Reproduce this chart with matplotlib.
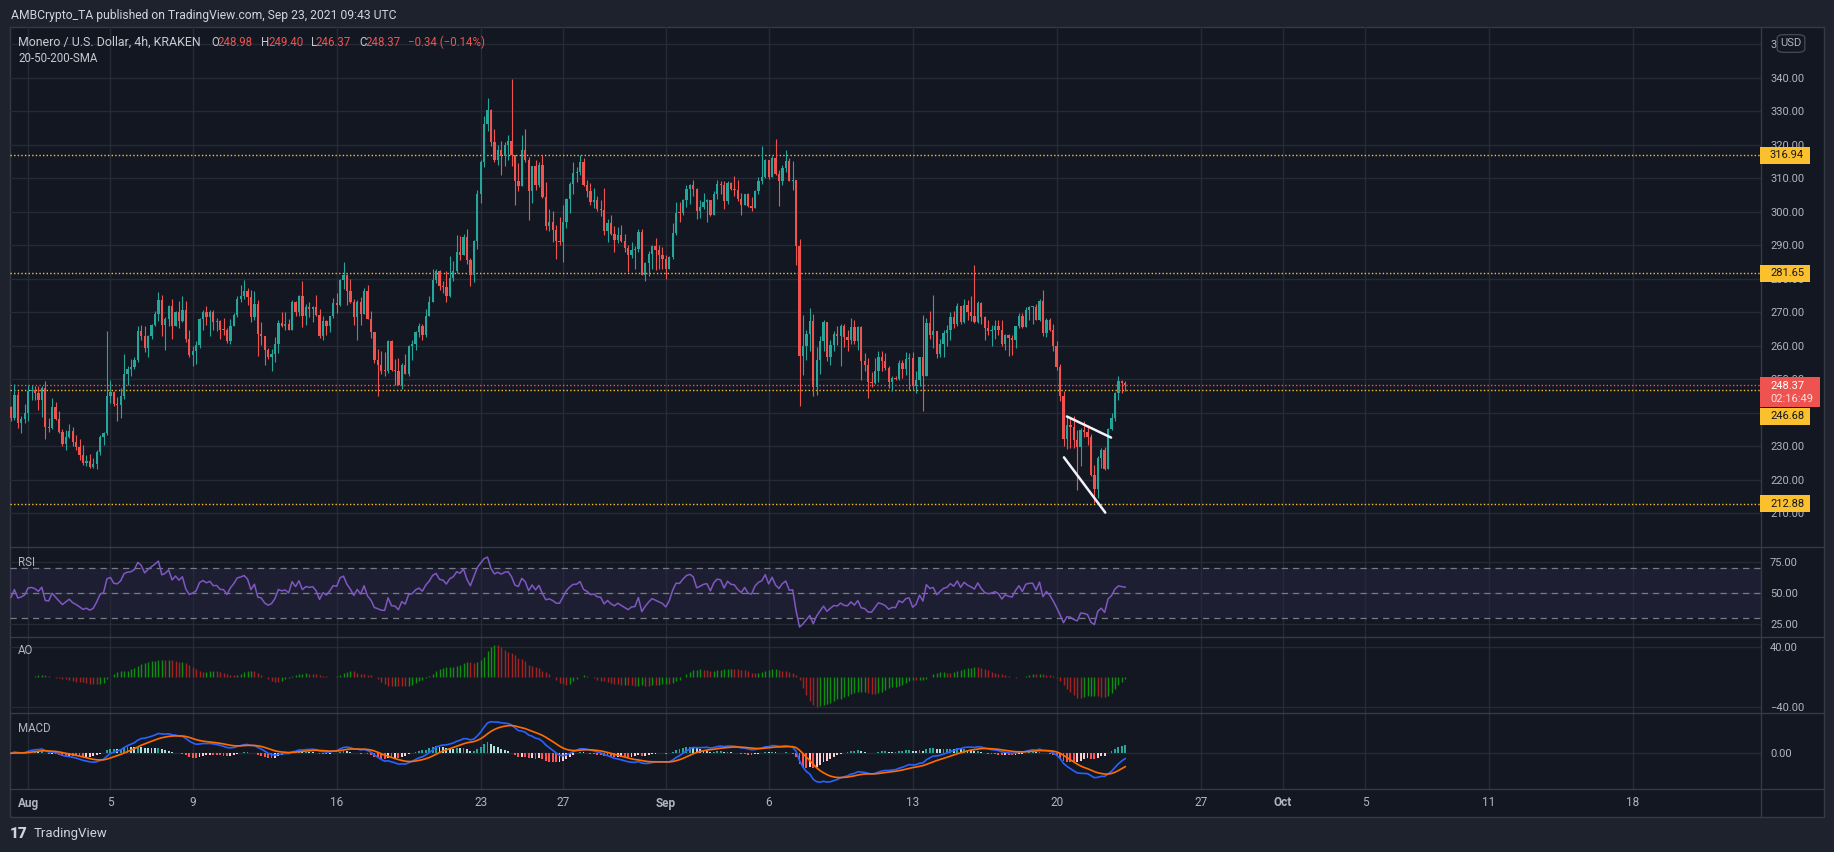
import numpy as np
import pandas as pd
import matplotlib
matplotlib.use("Agg")
import matplotlib.pyplot as plt
import matplotlib.dates as mdates
from matplotlib.patches import Rectangle, FancyBboxPatch
from matplotlib.lines import Line2D

plt.rcParams['font.family'] = ['Roboto', 'DejaVu Sans']

# ---- XMR/USD 4h candles, Jul 31 04:00 -> Sep 23 08:00
first_open = 241.7
close = [
    238.4, 245.4, 237.1, 238.1, 239.9, 246.4, 246.9, 245.9, 243.9, 247.4,
    235.9, 235.4, 241.7, 238.1, 234.4, 230.7, 232.7, 234.6, 231.4, 229.7,
    227.5, 225.0, 225.7, 223.8, 224.8, 228.2, 232.9, 233.9, 244.9, 246.3,
    242.7, 242.4, 244.9, 251.7, 253.2, 253.6, 255.8, 264.5, 263.0, 259.2,
    263.0, 266.3, 269.6, 273.8, 266.3, 268.0, 272.0, 265.8, 270.0, 267.3,
    270.8, 262.0, 257.3, 258.5, 260.3, 268.0, 270.2, 268.6, 270.0, 267.1,
    267.3, 264.8, 264.6, 261.5, 266.0, 269.3, 274.1, 275.0, 276.3, 274.5,
    268.5, 272.6, 263.5, 262.8, 258.6, 256.6, 257.6, 260.6, 266.9, 266.0,
    266.6, 264.8, 273.1,
    270.0, 275.0, 269.0, 271.6, 271.0, 271.6, 269.1, 262.8, 267.5, 265.8,
    268.8, 272.8, 272.3, 279.7, 281.2, 276.3, 273.0, 268.5, 273.1, 269.6,
    276.5, 268.1, 264.0, 255.8, 254.4, 252.6, 252.4, 261.5, 252.9, 252.6,
    248.2, 254.4, 251.7, 260.0, 260.6, 264.1, 265.8, 263.3, 269.0, 273.1,
    279.7, 282.2, 278.0, 277.5, 274.8, 280.2, 282.2, 288.1, 287.2, 292.5,
    285.7, 281.0, 291.2, 305.4, 315.0, 326.1, 330.5, 320.8, 315.4, 318.6,
    316.8, 320.1, 321.0, 316.9, 309.1, 307.8, 318.6, 315.4, 306.1, 313.6,
    308.1, 314.1, 304.4, 295.9, 296.9, 294.7, 291.2, 290.9, 297.0, 303.9,
    308.4,
    311.6, 311.8, 314.9, 307.9, 306.1, 302.9, 303.4, 300.9, 300.5, 294.2,
    296.7, 293.5, 291.5, 293.2, 291.2, 289.2, 287.2, 288.7, 288.9, 294.0,
    281.2, 284.7, 287.5, 289.9, 288.5, 287.2, 285.9, 283.0, 286.5, 293.7,
    299.7, 299.5, 303.4, 306.8, 308.1, 306.8, 300.2, 301.4, 302.9, 303.4,
    299.2, 305.2, 308.4, 307.9, 303.2, 308.6, 306.8, 306.5, 303.7, 301.9,
    305.2, 301.7, 301.2, 306.3, 309.1, 310.3, 315.4, 310.4, 316.1, 311.4,
    309.1, 313.1, 315.3, 309.3, 309.6, 289.9, 257.0, 259.8, 263.6, 267.5,
    247.6, 255.8, 261.5, 267.0, 256.8, 260.3, 263.6, 262.8, 266.0, 262.5,
    261.8, 265.6,
    261.3, 265.6, 255.5, 254.4, 249.1, 248.8, 252.6, 256.6, 255.4, 253.4,
    249.1, 250.4, 250.1, 255.0, 253.2, 256.0, 256.5, 247.9, 249.9, 256.6,
    251.1, 266.8, 263.3, 264.3, 257.5, 260.6, 263.8, 264.8, 268.6, 266.6,
    272.0, 267.0, 272.3, 270.0, 268.8, 267.0, 272.8, 268.6, 265.3, 264.3,
    264.8, 265.8, 264.6, 260.6, 263.3, 262.3, 261.8, 265.8, 269.0, 265.6,
    270.8, 271.5, 271.6, 267.8, 273.5, 263.8, 267.6, 264.8, 260.0, 253.6,
    244.9, 232.1, 236.4, 235.7, 231.9, 229.7, 234.9, 234.4, 232.9, 221.5,
    217.2, 226.5, 229.0, 223.2, 235.1, 238.4, 245.9, 249.6, 248.98, 248.37,
]
high = [
    242.1, 248.7, 246.6, 239.0, 242.7, 248.3, 248.3, 248.1, 248.1, 247.9,
    249.6, 238.4, 244.4, 243.3, 240.4, 235.2, 234.9, 236.7, 235.7, 233.4,
    232.1, 230.4, 227.5, 227.8, 226.5, 229.0, 233.4, 234.4, 264.3, 249.9,
    246.6, 244.7, 247.4, 257.6, 254.1, 256.1, 256.6, 265.8, 266.3, 266.0,
    263.3, 266.6, 270.3, 276.1, 275.3, 268.5, 272.3, 274.0, 270.3, 273.5,
    275.0, 273.5, 264.8, 260.0, 261.3, 268.3, 270.8, 272.0, 270.8, 270.8,
    268.3, 267.8, 268.3, 265.3, 268.0, 269.8, 275.0, 278.3, 279.5, 277.3,
    276.6, 276.5, 273.6, 267.2, 263.0, 259.3, 259.0, 262.5, 267.8, 270.0,
    270.1, 268.1, 273.8,
    273.5, 275.2, 279.2, 272.6, 273.0, 272.0, 275.3, 271.1, 268.8, 267.8,
    269.0, 274.4, 275.9, 280.0, 284.9, 281.5, 280.0, 274.0, 273.8, 274.6,
    277.3, 278.3, 270.3, 264.0, 259.0, 258.3, 258.0, 261.6, 261.8, 256.0,
    256.3, 254.9, 257.6, 260.2, 261.8, 264.3, 266.8, 266.6, 271.0, 275.0,
    282.9, 282.9, 282.7, 279.4, 282.2, 286.9, 285.2, 293.2, 292.9, 293.5,
    295.0, 286.2, 291.5, 306.6, 315.6, 328.6, 334.1, 330.8, 324.6, 320.1,
    321.0, 320.8, 322.8, 339.8, 316.6, 314.6, 322.8, 324.8, 316.3, 313.8,
    315.4, 314.8, 317.1, 309.0, 300.7, 300.2, 296.2, 298.5, 301.9, 304.2,
    308.8,
    314.8, 313.3, 317.1, 316.1, 309.6, 308.6, 307.1, 304.8, 303.4, 307.1,
    297.9, 299.2, 295.9, 295.5, 296.2, 293.5, 290.2, 291.0, 289.9, 294.9,
    294.9, 284.9, 288.2, 290.2, 292.2, 290.2, 289.5, 287.2, 286.9, 296.7,
    303.0, 302.9, 303.7, 308.1, 308.3, 309.6, 307.1, 303.4, 305.6, 303.9,
    303.2, 306.1, 309.6, 309.3, 309.1, 309.1, 308.8, 310.8, 309.6, 305.6,
    305.4, 305.6, 304.4, 306.6, 310.4, 319.6, 315.8, 315.4, 316.8, 321.6,
    312.4, 314.1, 318.6, 316.1, 315.1, 308.4, 291.9, 269.3, 264.8, 271.4,
    269.6, 259.6, 262.8, 267.8, 267.0, 261.6, 264.5, 265.8, 266.6, 266.6,
    264.8, 268.3,
    267.6, 266.0, 265.8, 257.8, 256.3, 252.1, 256.3, 258.3, 258.3, 257.8,
    254.1, 251.1, 250.9, 255.8, 255.8, 258.1, 257.8, 258.0, 252.6, 256.8,
    269.3, 268.3, 270.3, 275.3, 264.5, 262.0, 264.8, 266.3, 270.0, 270.3,
    272.8, 271.8, 274.0, 273.8, 275.0, 284.2, 273.5, 273.0, 269.0, 267.8,
    266.3, 267.8, 267.8, 267.6, 263.5, 263.6, 263.3, 266.0, 269.8, 269.8,
    271.6, 271.8, 271.8, 272.6, 274.0, 276.8, 268.3, 268.3, 266.5, 261.3,
    254.5, 246.6, 238.7, 238.4, 238.9, 234.9, 235.4, 237.6, 236.4, 233.6,
    224.5, 227.0, 229.5, 229.7, 235.4, 239.9, 246.1, 251.1, 249.9, 249.40,
]
low = [
    237.4, 237.7, 235.6, 234.1, 236.9, 237.4, 243.9, 243.9, 240.7, 238.7,
    232.1, 234.4, 235.1, 237.9, 234.1, 230.1, 228.8, 232.4, 230.1, 228.8,
    226.0, 224.5, 224.0, 223.5, 223.5, 223.2, 227.5, 230.4, 233.4, 242.9,
    241.9, 237.4, 238.4, 244.2, 248.4, 251.1, 253.1, 255.3, 261.8, 258.0,
    256.8, 262.0, 265.8, 267.3, 262.8, 258.8, 265.8, 262.0, 265.8, 265.3,
    267.0, 261.0, 256.6, 254.1, 254.5, 259.2, 264.6, 266.3, 262.8, 264.8,
    264.3, 262.0, 263.3, 260.8, 260.6, 265.8, 268.5, 273.0, 274.0, 272.1,
    267.1, 267.6, 257.1, 260.3, 254.4, 256.0, 252.4, 255.3, 257.8, 265.6,
    264.8, 264.6, 264.6,
    269.0, 268.8, 265.6, 266.3, 268.6, 267.0, 268.8, 262.3, 261.6, 263.3,
    264.0, 268.3, 269.8, 272.0, 276.9, 272.3, 272.8, 266.3, 261.6, 266.3,
    270.0, 268.0, 262.3, 254.9, 244.9, 251.7, 250.9, 251.9, 252.4, 248.4,
    248.2, 247.2, 251.7, 251.1, 255.8, 258.8, 262.5, 261.8, 262.5, 268.8,
    273.1, 278.8, 276.8, 275.9, 273.0, 274.6, 279.3, 281.7, 285.7, 287.2,
    284.5, 277.9, 278.9, 288.9, 302.5, 313.4, 324.1, 319.8, 314.8, 314.1,
    311.1, 313.8, 315.4, 313.6, 301.9, 306.1, 307.8, 314.8, 297.7, 302.5,
    306.4, 307.4, 304.2, 294.5, 294.2, 290.9, 286.0, 290.2, 284.9, 295.1,
    299.5,
    305.4, 309.0, 311.1, 307.8, 304.4, 301.9, 301.2, 300.2, 298.7, 293.2,
    290.9, 293.2, 287.9, 290.7, 290.9, 287.9, 281.9, 286.2, 283.0, 287.9,
    281.0, 279.3, 280.9, 282.9, 282.5, 282.9, 282.9, 279.9, 283.5, 285.9,
    293.2, 296.9, 299.0, 301.5, 302.2, 304.7, 298.0, 298.2, 300.9, 296.9,
    298.7, 299.7, 303.9, 305.4, 300.9, 302.2, 306.4, 304.7, 303.2, 299.0,
    301.9, 301.5, 300.2, 301.9, 305.4, 308.4, 310.1, 309.8, 310.9, 310.9,
    301.7, 308.1, 311.8, 309.1, 306.4, 284.2, 241.9, 251.4, 255.8, 258.3,
    244.9, 245.2, 251.7, 258.5, 255.6, 254.4, 258.3, 260.3, 253.9, 259.5,
    258.3, 260.6,
    260.6, 258.6, 249.9, 252.6, 244.4, 247.7, 248.5, 249.2, 252.6, 252.9,
    247.4, 246.4, 249.7, 249.7, 250.4, 251.4, 246.9, 246.9, 245.9, 247.9,
    240.4, 250.9, 262.0, 259.3, 256.3, 256.6, 256.8, 259.8, 261.8, 265.3,
    266.0, 266.6, 266.8, 267.8, 267.3, 266.8, 266.8, 266.6, 261.6, 263.3,
    260.0, 262.0, 263.3, 260.0, 258.8, 257.0, 257.3, 259.3, 265.3, 265.3,
    265.6, 267.8, 266.6, 267.6, 267.3, 263.0, 262.5, 264.3, 258.3, 252.9,
    243.4, 230.1, 229.2, 229.5, 229.5, 217.0, 224.2, 232.9, 230.4, 221.2,
    213.0, 214.5, 223.5, 223.0, 223.5, 235.0, 237.4, 243.9, 245.9, 246.37,
]

levels = [316.94, 281.65, 246.68, 212.88]
last_price = 248.37
countdown = "02:16:49"

# drawn wedge lines (time, price)
upper_t = ["2021-09-20 12:00", "2021-09-22 15:30"]
upper_p = [238.9, 232.6]
lower_t = ["2021-09-20 08:30", "2021-09-22 08:45"]
lower_p = [226.7, 210.2]

tick_dates = ["2021-08-01", "2021-08-05", "2021-08-09", "2021-08-16", "2021-08-23",
              "2021-08-27", "2021-09-01", "2021-09-06", "2021-09-13", "2021-09-20",
              "2021-09-27", "2021-10-01", "2021-10-05", "2021-10-11", "2021-10-18"]
tick_labels = ["Aug", "5", "9", "16", "23", "27", "Sep", "6", "13", "20", "27",
               "Oct", "5", "11", "18"]

# ---- colours
BG_OUT = "#1e222d"
BG = "#131722"
GRID = "#262a35"
SEP = "#363a45"
TXT = "#b2b5be"
UP = "#26a69a"
DN = "#ef5350"
YEL = "#fbc02d"

c = np.array(close)
h = np.array(high)
l = np.array(low)
o = np.concatenate([[first_open], c[:-1]])
h = np.maximum(h, np.maximum(o, c))
l = np.minimum(l, np.minimum(o, c))
n = len(c)
times = pd.date_range("2021-07-31 04:00", periods=n, freq="4h")
tn = mdates.date2num(times.to_pydatetime())

# ---- indicators from the candles
d = np.diff(c, prepend=c[0])
up = np.clip(d, 0, None)
dn = np.clip(-d, 0, None)
ag = up[1:15].mean()
al = dn[1:15].mean()
rsi = np.empty(n)
for i in range(n):
    if i > 0:
        ag = (ag * 13 + up[i]) / 14
        al = (al * 13 + dn[i]) / 14
    rsi[i] = 100 - 100 / (1 + ag / al)

med = pd.Series((h + l) / 2)
ao = (med.rolling(5, min_periods=1).mean() - med.rolling(34, min_periods=1).mean()).values
ao_col = ["#0e8f0e" if i == 0 or ao[i] >= ao[i - 1] else "#a32222" for i in range(n)]

cs = pd.Series(c)
macd = (cs.ewm(span=12, adjust=False).mean() - cs.ewm(span=26, adjust=False).mean()).values
sig = pd.Series(macd).ewm(span=9, adjust=False).mean().values
hist = macd - sig
hist_col = []
for i in range(n):
    prev = hist[i - 1] if i > 0 else 0
    if hist[i] >= 0:
        hist_col.append("#26a69a" if hist[i] >= prev else "#b2dfdb")
    else:
        hist_col.append("#ff5252" if hist[i] < prev else "#ffcdd2")

# ---- layout (pixels)
W, H = 1834, 852
fig = plt.figure(figsize=(W / 100, H / 100), dpi=100, facecolor=BG_OUT)


def rect(x0, y0, x1, y1):
    return [x0 / W, 1 - y1 / H, (x1 - x0) / W, (y1 - y0) / H]


fig.add_artist(Rectangle((10 / W, 1 - 817 / H), 1814 / W, (817 - 26.5) / H,
                         transform=fig.transFigure, facecolor=BG, edgecolor=SEP,
                         lw=1, zorder=-1))

ax = fig.add_axes(rect(10, 26.5, 1761, 547))
ax_rsi = fig.add_axes(rect(10, 547, 1761, 637), sharex=ax)
ax_ao = fig.add_axes(rect(10, 637, 1761, 713), sharex=ax)
ax_macd = fig.add_axes(rect(10, 713, 1761, 789), sharex=ax)
ax_x = fig.add_axes(rect(10, 789, 1761, 817), sharex=ax)

aug1 = mdates.date2num(pd.Timestamp("2021-08-01").to_pydatetime())
ax.set_xlim(aug1 - 0.88, aug1 + 84.24)
tdn = mdates.date2num(pd.to_datetime(tick_dates).to_pydatetime())

for a in (ax, ax_rsi, ax_ao, ax_macd, ax_x):
    a.set_facecolor("none")
    for s in a.spines.values():
        s.set_visible(False)
    a.yaxis.tick_right()
    a.tick_params(length=0, labelbottom=False, labelleft=False, labelright=True,
                  labelsize=8, labelcolor=TXT, pad=6.5)
    a.set_xticks(tdn)
    a.grid(True, axis="x", color=GRID, lw=1.0, zorder=0)
ax_x.grid(False)
ax_x.set_yticks([])

# ---- main pane
ax.set_ylim(199.93, 355.33)
pt = np.arange(210, 351, 10)
ax.set_yticks(pt)
ax.set_yticklabels([f"{v:.2f}" for v in pt])
ax.grid(True, axis="y", color=GRID, lw=1.0, zorder=0)

for lv in levels:
    ax.axhline(lv, color=YEL, lw=1.0, ls=(0, (1, 1.6)), zorder=2)
ax.axhline(last_price, color=DN, lw=1.0, ls=(0, (1, 1.6)), zorder=2)

col = np.where(c >= o, UP, DN)
ax.vlines(tn, l, h, colors=col, lw=0.8, zorder=3)
body = np.maximum(np.abs(c - o), 0.3)
ax.bar(tn, body, bottom=np.minimum(o, c), width=0.112, color=col, lw=0, zorder=3)

for tt, pp in ((upper_t, upper_p), (lower_t, lower_p)):
    xx = mdates.date2num(pd.to_datetime(tt).to_pydatetime())
    ax.plot(xx, pp, color="#f0f3fa", lw=1.8, solid_capstyle="round", zorder=4)

# ---- RSI pane
ax_rsi.set_ylim(14.86, 86.7)
ax_rsi.set_yticks([25, 50, 75])
ax_rsi.set_yticklabels(["25.00", "50.00", "75.00"])
ax_rsi.grid(True, axis="y", color=GRID, lw=1.0)
ax_rsi.axhspan(30, 70, color="#7e57c2", alpha=0.11, lw=0, zorder=1)
for lv in (30, 50, 70):
    ax_rsi.axhline(lv, color="#787b86", lw=0.9, ls=(0, (5, 4)), zorder=2)
ax_rsi.plot(tn, rsi, color="#7e57c2", lw=1.1, zorder=3)

# ---- AO pane
ax_ao.set_ylim(-48.4, 52.9)
ax_ao.set_yticks([-40, 40])
ax_ao.set_yticklabels(["\u221240.00", "40.00"])
ax_ao.grid(True, axis="y", color=GRID, lw=1.0)
ax_ao.vlines(tn, 0, ao, colors=ao_col, lw=1.0, zorder=3)

# ---- MACD pane
ppu = 31.6 / macd.max()
ax_macd.set_ylim(-35.7 / ppu, 40.3 / ppu)
ax_macd.set_yticks([0])
ax_macd.set_yticklabels(["0.00"])
ax_macd.grid(True, axis="y", color=GRID, lw=1.0)
ax_macd.bar(tn, hist, width=0.09, color=hist_col, lw=0, zorder=2)
ax_macd.plot(tn, macd, color="#2962ff", lw=1.2, zorder=3)
ax_macd.plot(tn, sig, color="#ff6d00", lw=1.2, zorder=3)

# ---- date axis
for x, lab in zip(tdn, tick_labels):
    ax_x.text(x, 0.5, lab, transform=ax_x.get_xaxis_transform(), ha="center", va="center",
              fontsize=8.5, color=TXT, fontweight="bold" if lab.isalpha() else "normal")

# ---- separators
for y in (547, 637, 713, 789):
    fig.add_artist(Line2D([10 / W, 1824 / W], [1 - y / H] * 2, color=SEP, lw=1, zorder=3))
fig.add_artist(Line2D([1761 / W] * 2, [1 - 26.5 / H, 1 - 817 / H], color=SEP, lw=1, zorder=3))


# ---- price tags on the scale
def ypx(price):
    return H - ax.transData.transform((aug1, price))[1]


def tag(yc, text, bg, fg, hgt=17, wid=50):
    fig.add_artist(Rectangle((1760 / W, 1 - (yc + hgt / 2) / H), wid / W, hgt / H,
                             transform=fig.transFigure, facecolor=bg, lw=0, zorder=5))
    fig.text(1770 / W, 1 - yc / H, text, color=fg, fontsize=8, va="center", ha="left", zorder=6)


for lv in (316.94, 281.65, 212.88):
    tag(ypx(lv), f"{lv:.2f}", YEL, "#131722")
yl = ypx(last_price)
fig.add_artist(Rectangle((1760 / W, 1 - (yl + 22) / H), 60 / W, 30 / H,
                         transform=fig.transFigure, facecolor=DN, lw=0, zorder=5))
fig.text(1770 / W, 1 - (yl + 0.8) / H, f"{last_price:.2f}", color="white", fontsize=8,
         va="center", zorder=6)
fig.text(1770 / W, 1 - (yl + 14.4) / H, countdown, color="#fde0df", fontsize=8,
         va="center", zorder=6)
tag(yl + 31.6, "246.68", YEL, "#131722")

fig.add_artist(FancyBboxPatch((1779 / W, 1 - 51.5 / H), 24 / W, 16 / H,
                              boxstyle="round,pad=0.001,rounding_size=0.004",
                              transform=fig.transFigure, facecolor=BG,
                              edgecolor="#434651", lw=1, zorder=5))
fig.text(1791 / W, 1 - 43 / H, "USD", color=TXT, fontsize=8, ha="center", va="center", zorder=6)

# ---- texts
fig.text(10.7 / W, 1 - 15 / H, "AMBCrypto_TA published on TradingView.com, Sep 23, 2021 09:43 UTC",
         color="#d1d4dc", fontsize=8.75, va="center")
LBL = "#c8cad0"
fig.text(18 / W, 1 - 42 / H, "Monero / U.S. Dollar, 4h, KRAKEN", color=LBL, fontsize=8.9,
         va="center", ha="left")
head = [(211, "O", LBL), (217.6, "248.98", DN),
        (261, "H", LBL), (268, "249.40", DN), (311, "L", LBL), (315, "246.37", DN),
        (359, "C", LBL), (365, "248.37", DN), (408, "\u22120.34 (\u22120.14%)", DN)]
for x, s, cc in head:
    fig.text(x / W, 1 - 42 / H, s, color=cc, fontsize=8.3, va="center", ha="left")
fig.text(18 / W, 1 - 59 / H, "20-50-200-SMA", color=LBL, fontsize=8.3, va="center")
fig.text(18 / W, 1 - 563 / H, "RSI", color=TXT, fontsize=8.3, va="center")
fig.text(18 / W, 1 - 651 / H, "AO", color=TXT, fontsize=8.3, va="center")
fig.text(18 / W, 1 - 729 / H, "MACD", color=TXT, fontsize=8.3, va="center")

fig.text(10 / W, 1 - 834 / H, "17", color="#d1d4dc", fontsize=11, fontweight="heavy", va="center")
fig.text(33.5 / W, 1 - 834 / H, "TradingView", color="#d1d4dc", fontsize=9.5, va="center")

fig.savefig("out.png", dpi=100, facecolor=BG_OUT)
